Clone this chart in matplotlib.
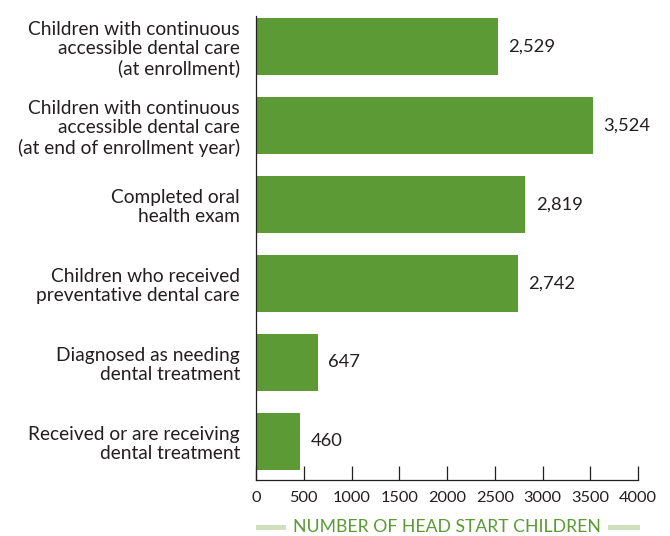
import matplotlib
matplotlib.use("Agg")
import matplotlib.pyplot as plt
from matplotlib.patches import Rectangle

categories = [
    "Children with continuous\naccessible dental care\n(at enrollment)",
    "Children with continuous\naccessible dental care\n(at end of enrollment year)",
    "Completed oral\nhealth exam",
    "Children who received\npreventative dental care",
    "Diagnosed as needing\ndental treatment",
    "Received or are receiving\ndental treatment",
]
values = [2529, 3524, 2819, 2742, 647, 460]
xticks = [0, 500, 1000, 1500, 2000, 2500, 3000, 3500, 4000]
xlabel = "NUMBER OF HEAD START CHILDREN"

GREEN = "#5b9a35"
LIGHT = "#cfe0bf"
TEXT = "#231f20"

plt.rcParams['font.family'] = ['Lato', 'DejaVu Sans']

fig = plt.figure(figsize=(6.7, 5.36), dpi=100)
ax = fig.add_axes([256/670, 1-480/536, (638-256)/670, (480-16)/536])

n = len(categories)
ypos = list(range(n-1, -1, -1))
ax.barh(ypos, values, height=0.72, color=GREEN, edgecolor='none')
for y, v in zip(ypos, values):
    ax.text(v + 110, y, f"{v:,}", va='center', ha='left', fontsize=13.2, color=TEXT)

ax.set_yticks(ypos)
ax.set_yticklabels(categories, fontsize=13.8, color=TEXT, linespacing=1.15)
ax.tick_params(axis='y', length=0, pad=11.5)
ax.set_xlim(0, 4000)
ax.set_ylim(-0.49, 5.39)
ax.set_xticks(xticks)
ax.set_xticklabels([str(t) for t in xticks], fontsize=11.8, color=TEXT)
ax.tick_params(axis='x', direction='in', length=10, width=0.9, pad=8, colors=TEXT)
for s in ['top', 'right']:
    ax.spines[s].set_visible(False)
for s in ['left', 'bottom']:
    ax.spines[s].set_linewidth(0.9)
    ax.spines[s].set_color(TEXT)

fig.text(447/670, 1-527/536, xlabel, ha='center', va='center', fontsize=12.7, color=GREEN)
fig.add_artist(Rectangle((256/670, 1-530/536), 30/670, 5/536, transform=fig.transFigure, color=LIGHT, lw=0))
fig.add_artist(Rectangle((608/670, 1-530/536), 32/670, 5/536, transform=fig.transFigure, color=LIGHT, lw=0))

fig.savefig("out.png", dpi=100)
